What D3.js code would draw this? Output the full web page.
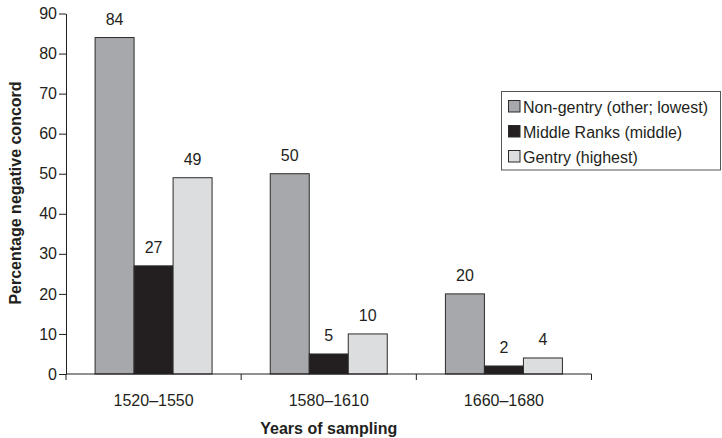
<!DOCTYPE html>
<html>
<head>
<meta charset="utf-8">
<script src="https://cdn.jsdelivr.net/npm/d3@7/dist/d3.min.js"></script>
<style>
  html, body { margin: 0; padding: 0; background: #fff; }
  svg text { font-family: "Liberation Sans", Arial, Helvetica, sans-serif; fill: #231f20; }
</style>
</head>
<body>
<svg id="chart" width="722" height="438"></svg>
<script>
// Sampling periods on the x axis
const periods = ["1520–1550", "1580–1610", "1660–1680"];
// Social rank series (legend order)
const ranks = ["Non-gentry (other; lowest)", "Middle Ranks (middle)", "Gentry (highest)"];
const rankColors = ["#a7a8ab", "#231f20", "#dcdddf"];
// Percentage negative concord, one array per rank, in period order
const nonGentry = [84, 50, 20];
const middleRanks = [27, 5, 2];
const gentry = [49, 10, 4];
const seriesValues = [nonGentry, middleRanks, gentry];
const yTicks = [0, 10, 20, 30, 40, 50, 60, 70, 80, 90];

(function () {
  const svg = d3.select("#chart");
  const plotLeft = 66, plotRight = 591.5, plotTop = 13.5, plotBottom = 374;
  const fs = 16;

  const x = d3.scaleBand().domain(periods).range([plotLeft, plotRight]).padding(0);
  const barW = 39;
  const inner = d3.scaleBand().domain(d3.range(ranks.length)).range([0, barW * ranks.length]);
  const y = d3.scaleLinear().domain([0, 90]).range([plotBottom, plotTop]);

  // Bars with value labels
  const groups = svg.selectAll("g.period")
    .data(periods)
    .join("g")
    .attr("class", "period")
    .attr("transform", d => `translate(${x(d) + (x.bandwidth() - barW * ranks.length) / 2},0)`);

  groups.each(function (p, pi) {
    const g = d3.select(this);
    const vals = seriesValues.map(s => s[pi]);
    g.selectAll("rect")
      .data(vals)
      .join("rect")
      .attr("x", (d, i) => inner(i))
      .attr("y", d => y(d))
      .attr("width", barW)
      .attr("height", d => y(0) - y(d))
      .attr("fill", (d, i) => rankColors[i])
      .attr("stroke", "#2b2b2b")
      .attr("stroke-width", 1);
    g.selectAll("text.val")
      .data(vals)
      .join("text")
      .attr("class", "val")
      .attr("x", (d, i) => inner(i) + barW / 2)
      .attr("y", d => y(d) - 12.5)
      .attr("text-anchor", "middle")
      .attr("font-size", fs)
      .text(d => d);
  });

  // Y axis
  const yAxis = d3.axisLeft(y).tickValues(yTicks).tickSize(7).tickPadding(2).tickSizeOuter(0);
  const gy = svg.append("g").attr("transform", `translate(${plotLeft},0)`).call(yAxis);
  gy.select(".domain").attr("stroke", "#231f20");
  gy.selectAll(".tick line").attr("stroke", "#231f20");
  gy.selectAll(".tick text").attr("font-size", fs).attr("fill", "#231f20")
    .style("font-family", "'Liberation Sans', Arial, sans-serif");

  // X axis: baseline with ticks at the period boundaries
  svg.append("line")
    .attr("x1", plotLeft).attr("x2", plotRight)
    .attr("y1", plotBottom).attr("y2", plotBottom)
    .attr("stroke", "#231f20");
  const boundaries = periods.map(p => x(p)).concat([x(periods[periods.length - 1]) + x.bandwidth()]);
  svg.selectAll("line.xtick")
    .data(boundaries)
    .join("line")
    .attr("class", "xtick")
    .attr("x1", d => d).attr("x2", d => d)
    .attr("y1", plotBottom).attr("y2", plotBottom + 6)
    .attr("stroke", "#231f20");
  svg.selectAll("text.cat")
    .data(periods)
    .join("text")
    .attr("class", "cat")
    .attr("x", d => x(d) + x.bandwidth() / 2)
    .attr("y", 405.5)
    .attr("text-anchor", "middle")
    .attr("font-size", fs)
    .text(d => d);

  // Axis titles
  svg.append("text")
    .attr("x", (plotLeft + plotRight) / 2)
    .attr("y", 433.5)
    .attr("text-anchor", "middle")
    .attr("font-size", fs)
    .attr("font-weight", "bold")
    .text("Years of sampling");
  svg.append("text")
    .attr("transform", `translate(20.5,193) rotate(-90)`)
    .attr("text-anchor", "middle")
    .attr("font-size", fs)
    .attr("font-weight", "bold")
    .text("Percentage negative concord");

  // Legend
  const legend = svg.append("g");
  legend.append("rect")
    .attr("x", 501.5).attr("y", 91.5)
    .attr("width", 219).attr("height", 78.5)
    .attr("fill", "#fff")
    .attr("stroke", "#555")
    .attr("stroke-width", 1);
  const items = legend.selectAll("g.item")
    .data(ranks)
    .join("g")
    .attr("class", "item")
    .attr("transform", (d, i) => `translate(0,${i * 25})`);
  items.append("rect")
    .attr("x", 508.5).attr("y", 100.5)
    .attr("width", 11.5).attr("height", 11.5)
    .attr("fill", (d, i) => rankColors[i])
    .attr("stroke", "#2b2b2b");
  items.append("text")
    .attr("x", 523)
    .attr("y", 112.5)
    .attr("font-size", fs)
    .text(d => d);
})();
</script>
</body>
</html>
